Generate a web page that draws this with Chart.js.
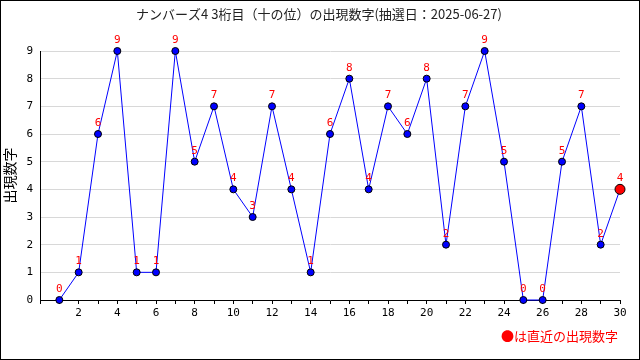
<!DOCTYPE html>
<html><head><meta charset="utf-8">
<script src="https://cdn.jsdelivr.net/npm/chart.js@4.4.1/dist/chart.umd.min.js"></script>
<style>
html,body{margin:0;padding:0;background:#fff;}
#wrap{width:640px;height:360px;box-sizing:border-box;border:1px solid #000;position:relative;}
#box{width:638px;height:358px;position:relative;}
</style></head><body>
<div id="wrap"><div id="box"><canvas id="c"></canvas></div></div>
<script>
const draws = [1,2,3,4,5,6,7,8,9,10,11,12,13,14,15,16,17,18,19,20,21,22,23,24,25,26,27,28,29,30];
const digits = [0,1,6,9,1,1,9,5,7,4,3,7,4,1,6,8,4,7,6,8,2,7,9,5,0,0,5,7,2,4];
const yTicks = [0,1,2,3,4,5,6,7,8,9];
const titleText = 'ナンバーズ4 3桁目（十の位）の出現数字(抽選日：2025-06-27)';
const yTitle = '出現数字';
const noteText = '●は直近の出現数字';

const points = draws.map((d,i)=>({x:d,y:digits[i]}));
const last = points.length-1;
const CJK = '"Noto Sans CJK JP", "Noto Sans CJK SC", sans-serif';
const MONO = '"DejaVu Sans Mono", monospace';

const textPlugin = {
  id:'texts',
  afterDatasetsDraw(chart){
    const ctx = chart.ctx;
    const meta = chart.getDatasetMeta(0);
    ctx.save();
    ctx.fillStyle = '#ff0000';
    ctx.font = '11px ' + MONO;
    ctx.textAlign = 'center';
    ctx.textBaseline = 'middle';
    meta.data.forEach((el,i)=>{
      ctx.fillText(String(digits[i]), el.x, el.y - 11);
    });
    ctx.restore();
  },
  afterDraw(chart){
    const ctx = chart.ctx;
    ctx.save();
    ctx.fillStyle = '#222';
    ctx.font = '13px ' + CJK;
    ctx.textAlign = 'center';
    ctx.textBaseline = 'middle';
    ctx.fillText(titleText, 318, 13);
    ctx.fillStyle = '#ff0000';
    ctx.font = '13px ' + CJK;
    ctx.textAlign = 'right';
    ctx.fillText(noteText, 617, 335);
    ctx.restore();
  }
};

new Chart(document.getElementById('c'), {
  type:'line',
  data:{datasets:[{
    data: points,
    borderColor:'#0000ff',
    borderWidth:1,
    tension:0,
    clip:false,
    pointRadius: points.map((p,i)=> i===last ? 5 : 3.5),
    pointBackgroundColor: points.map((p,i)=> i===last ? '#ff0000' : '#0000ff'),
    pointBorderColor:'#000',
    pointBorderWidth:1
  }]},
  options:{
    responsive:true, maintainAspectRatio:false, animation:false,
    layout:{padding:{top:50,right:19,bottom:39,left:0}},
    plugins:{legend:{display:false},title:{display:false},tooltip:{enabled:false}},
    scales:{
      x:{type:'linear',min:0,max:30,
        border:{color:'#000',width:1},
        grid:{drawOnChartArea:false,drawTicks:true,tickLength:4,color:'#000'},
        ticks:{stepSize:1,autoSkip:false,maxRotation:0,padding:3,color:'#000',
          font:{family:MONO,size:11},
          callback:(v)=> (v>0 && v%2===0) ? String(v) : ''},
        afterFit(s){s.height=20;}
      },
      y:{min:0,max:9,
        border:{color:'#000',width:1},
        grid:{color:'#d8d8d8',drawTicks:false},
        ticks:{stepSize:1,padding:7,color:'#000',font:{family:MONO,size:11},
          callback:(v)=> yTicks.includes(v) ? String(v) : ''},
        title:{display:true,text:yTitle,color:'#000',font:{family:CJK,size:14},padding:0},
        afterFit(s){s.width=39;}
      }
    }
  },
  plugins:[textPlugin]
});
</script></body></html>
